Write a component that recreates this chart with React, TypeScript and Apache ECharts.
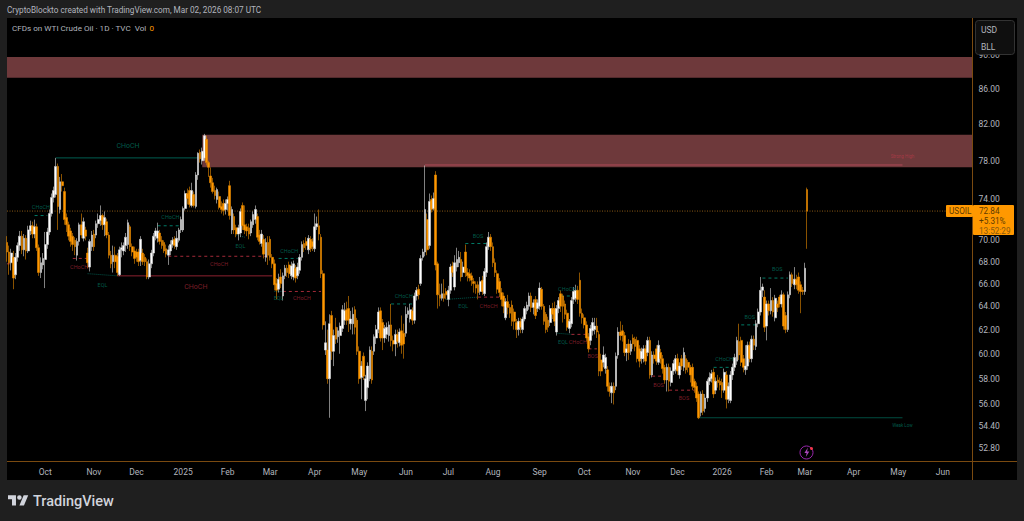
import React, { useEffect, useRef } from "react";
import * as echarts from "echarts";

// Daily bars as [open, close, low, high].
const barsA = [[69.8,68.9,68.0,70.4],[68.9,67.9,66.8,69.5],[67.9,68.8,67.2,69.2],[68.4,66.5,65.5,69.0],[66.8,68.4,66.4,68.8],[68.4,69.5,68.0,69.8],[69.5,70.4,69.0,70.9],[70.4,69.1,68.7,70.9],[69.1,70.2,68.5,70.6],[70.2,69.0,68.2,70.5],[69.0,71.0,68.8,71.4],[70.9,71.4,70.5,71.9],[71.4,70.6,70.2,71.8],[70.6,71.3,70.2,72.0],[71.3,69.3,69.0,71.6],[69.3,67.0,66.7,69.6],[67.0,67.9,66.5,68.4],[67.7,68.3,67.3,68.8],[68.2,69.6,65.6,70.8],[69.6,70.8,69.2,71.2],[70.8,72.6,70.5,73.0],[72.6,74.2,72.3,74.6],[74.2,74.9,73.7,75.3],[74.5,77.4,74.2,78.3],[77.4,73.3,71.0,77.7],[73.0,75.8,72.6,76.3],[75.8,75.4,74.8,76.6],[74.8,72.0,71.5,75.2]];
const barsB = [[72.2,71.5,70.8,72.6],[71.5,70.4,70.0,71.8],[70.9,69.9,69.4,71.2],[70.4,69.6,69.0,70.7],[70.0,69.4,68.6,70.3],[68.6,69.9,68.1,70.2],[69.9,71.5,69.5,71.7],[71.5,70.5,70.2,72.6],[70.2,71.8,69.9,72.2],[71.0,70.4,70.0,71.3],[68.8,67.9,67.4,69.3],[67.5,69.9,67.1,70.1],[69.4,70.5,69.0,70.9],[70.6,69.4,69.0,71.0],[70.5,71.6,70.2,71.9],[71.6,72.0,71.2,72.6],[71.9,72.4,71.4,73.4],[72.4,71.5,71.0,72.6],[71.5,72.2,70.4,72.8],[71.8,70.5,70.2,72.1],[70.5,68.6,68.3,70.8],[68.6,67.8,67.4,69.0],[68.0,68.6,67.0,69.5],[68.6,68.0,67.4,69.4],[68.5,67.0,66.7,68.8],[66.8,69.1,66.7,69.4],[69.1,69.3,68.4,69.8],[69.0,69.5,68.6,69.8],[69.5,70.3,68.9,70.7],[69.6,71.7,69.2,72.0]];
const barsC = [[71.3,69.4,69.0,71.5],[69.4,68.9,68.5,69.7],[69.0,68.3,67.8,69.4],[68.9,68.4,68.0,69.2],[68.9,68.0,67.6,69.2],[68.1,70.1,67.6,70.4],[68.8,68.0,67.7,69.2],[68.4,68.0,67.6,68.7],[68.0,66.6,66.4,68.3],[66.6,67.8,66.4,68.2],[67.8,68.8,67.4,69.1],[68.8,70.4,68.5,70.7],[70.4,70.9,70.0,71.2],[70.2,70.9,69.8,71.7],[70.7,69.9,69.6,71.0],[70.0,69.5,69.2,70.4],[69.8,69.0,68.8,70.0],[69.2,68.7,68.4,69.6],[68.6,69.1,67.7,69.5],[69.0,69.6,68.6,70.0],[69.6,70.0,69.3,70.3],[70.1,69.5,69.2,70.4],[69.4,70.2,69.1,70.9],[70.0,71.0,69.8,71.2],[71.0,72.0,70.7,72.3],[71.0,73.1,70.8,73.3],[73.1,74.6,72.9,74.9],[74.6,74.1,73.5,75.1],[74.9,73.5,73.2,75.3],[73.4,74.9,73.2,75.7],[74.5,73.4,73.2,74.8],[73.3,76.5,73.1,76.8],[76.5,78.8,76.0,78.9],[78.9,78.2,77.8,79.2],[78.0,79.0,77.6,79.4],[78.3,80.7,78.0,80.9],[80.3,77.8,77.5,80.7],[77.8,77.3,76.3,78.0]];
const barsD = [[76.4,75.7,75.2,77.3],[75.7,74.8,74.6,76.2],[74.9,74.4,74.0,75.4],[74.0,75.0,73.6,75.2],[74.3,73.2,73.0,74.8],[73.3,73.0,72.6,73.8],[73.6,72.9,72.4,74.0],[73.0,73.6,72.5,74.0],[73.6,74.0,72.9,74.3],[75.4,72.4,72.0,75.9],[71.0,73.0,70.6,73.3],[72.3,71.0,70.6,72.6],[71.2,70.6,70.3,71.5],[70.6,71.2,70.0,71.5],[70.7,72.8,70.3,73.1],[73.4,71.4,71.0,73.7],[71.5,71.0,70.6,73.4],[71.3,70.9,70.4,71.6],[71.2,70.6,70.1,71.6],[70.7,71.8,70.4,72.0],[71.5,72.5,71.2,72.8],[72.0,73.0,71.6,73.4],[72.3,70.3,70.0,72.6],[70.5,69.9,69.6,71.0],[69.7,70.6,69.4,71.0],[70.1,68.7,68.3,70.5],[68.4,69.8,68.0,70.2],[69.8,68.6,67.7,70.4],[70.1,68.4,68.1,70.4],[68.4,67.8,67.4,68.7]];
const barsE = [[67.8,65.9,65.4,68.2],[66.0,65.4,64.6,66.5],[65.5,66.4,65.2,66.9],[66.6,66.0,65.6,67.3],[64.9,66.7,64.5,67.0],[66.7,67.4,66.4,67.7],[67.4,67.0,66.6,67.7],[67.7,66.9,66.5,68.0],[66.7,67.6,66.4,68.0],[66.6,67.8,66.3,68.1],[67.4,66.5,66.1,67.7],[66.7,67.5,66.4,67.9],[67.2,68.4,66.9,68.7],[68.4,69.6,68.1,69.9],[69.7,69.3,68.9,70.0],[69.9,69.5,69.1,70.3],[69.1,70.2,68.7,70.5],[70.1,69.2,68.9,70.4],[69.9,69.4,69.0,70.2],[69.2,71.3,68.9,72.6],[71.3,71.6,71.0,72.3],[71.4,70.6,70.0,73.0],[70.3,66.9,66.5,70.6],[66.9,62.4,62.0,67.2],[60.3,60.9,59.9,62.7],[60.3,58.0,57.6,62.0],[58.0,62.5,55.0,63.3],[63.2,60.2,59.5,63.6],[60.2,61.5,59.0,62.0],[62.2,61.2,60.8,63.0],[61.4,61.9,60.9,62.2]];
const barsF = [[61.5,62.3,60.0,62.6],[62.1,63.7,61.8,64.1],[62.8,63.6,62.4,64.3],[63.7,62.8,62.4,64.4],[63.8,62.8,61.8,64.9],[62.5,62.9,62.0,63.6],[62.5,63.3,61.6,63.9],[63.7,62.2,61.6,64.0],[62.8,60.2,59.9,63.0],[60.2,58.0,57.6,60.6],[58.1,59.0,56.4,59.4],[59.8,58.2,57.9,60.1],[56.3,58.0,55.5,58.3],[57.3,59.0,56.4,59.3],[58.0,60.3,57.8,60.6],[60.2,57.9,57.6,60.6],[60.2,61.4,59.9,61.6],[61.3,62.0,60.8,62.4],[62.0,63.5,61.7,63.9],[63.6,61.3,61.0,63.9],[62.6,61.3,60.3,62.9],[61.3,62.1,60.9,62.4],[61.6,62.2,61.2,62.6],[61.5,62.4,61.0,62.7],[62.4,61.1,60.6,64.2],[61.1,60.8,60.2,61.5],[60.8,61.6,59.8,62.0],[61.6,61.0,60.5,62.0],[60.9,61.8,60.6,62.1],[61.9,60.7,60.0,63.2],[61.7,60.8,59.6,62.5],[61.7,63.3,61.4,64.0],[63.3,63.6,63.0,63.9],[62.9,63.7,62.6,64.2],[63.6,62.8,62.4,63.9],[62.8,64.9,62.5,65.2],[64.9,65.4,64.5,65.7],[65.5,65.0,64.6,65.9],[66.0,68.3,65.8,68.6]];
const barsG = [[68.4,68.9,68.1,69.2],[68.9,73.0,68.5,77.5],[72.0,69.1,68.6,72.6],[69.5,73.8,69.2,74.6],[74.0,73.0,72.7,74.4],[73.1,74.1,72.9,74.7],[76.5,67.7,67.2,76.9],[67.8,65.0,63.8,68.0],[65.0,64.7,64.0,66.0],[64.7,65.1,64.5,66.0],[65.1,64.7,64.4,66.4],[65.3,65.0,64.6,65.6],[64.6,65.4,64.0,65.8],[65.4,67.5,65.1,67.8],[67.6,67.0,66.6,68.0],[65.7,67.9,65.4,68.6],[67.5,68.2,67.1,69.3],[67.9,68.4,67.5,69.0],[68.2,66.6,66.2,68.9],[67.0,67.5,66.6,68.0],[68.9,67.0,66.6,69.6],[67.0,66.7,66.2,67.4],[66.9,66.5,66.2,67.3],[66.7,66.3,65.8,67.0],[66.2,66.0,65.2,66.5],[65.9,65.6,65.1,66.2],[65.9,65.2,64.6,66.2],[65.3,66.2,65.0,66.6],[66.3,65.3,65.0,66.7],[65.1,67.1,64.9,67.4],[67.0,69.4,66.6,69.8],[69.4,70.3,69.1,70.8],[70.3,69.4,69.0,70.6],[69.4,67.9,67.5,69.8],[67.9,67.0,66.6,68.3],[66.9,65.5,65.1,67.2],[66.2,65.2,64.8,66.5],[65.2,64.6,64.0,65.6],[64.9,64.0,63.4,65.2]];
const barsH = [[63.0,64.4,62.8,64.7],[64.4,63.9,63.3,65.0],[63.9,63.4,63.0,64.2],[64.1,62.7,62.3,64.5],[63.5,62.7,62.0,63.8],[62.6,62.0,61.3,62.9],[62.0,62.7,61.5,63.0],[62.7,62.2,61.7,63.0],[62.0,62.9,61.7,63.1],[62.9,63.8,62.7,64.0],[63.6,64.1,63.3,64.4],[64.0,64.9,63.7,65.2],[64.9,63.9,63.5,65.2],[63.9,64.3,63.3,64.6],[64.6,63.2,62.9,64.9],[63.8,64.3,63.5,64.6],[64.0,65.6,63.7,66.1],[65.5,64.0,63.7,65.7],[64.0,62.7,62.4,64.2],[63.3,62.0,61.7,63.5],[62.8,62.2,61.8,63.1],[62.6,63.8,62.3,64.1],[63.8,63.3,62.9,64.3],[63.8,62.7,62.3,64.4],[61.8,63.8,61.5,64.1],[63.8,64.5,63.4,64.8],[65.1,64.0,63.5,65.4],[64.9,64.0,62.6,65.1],[64.2,63.3,62.9,64.5],[63.4,62.2,61.9,63.7],[62.1,62.7,61.7,62.9],[62.5,64.5,62.2,64.8],[64.6,65.3,64.2,65.7],[64.7,65.4,64.4,65.9],[65.4,64.6,64.2,65.8],[66.3,63.4,63.1,67.0],[63.4,63.0,62.5,63.8],[63.0,62.4,62.1,63.3],[62.4,61.3,61.0,62.7],[61.4,60.4,60.1,61.7]];
const barsI = [[61.1,62.1,60.7,62.4],[61.9,62.6,61.5,63.0],[62.0,62.3,61.6,63.0],[62.3,61.8,61.3,63.0],[61.6,58.6,58.2,61.9],[59.5,58.6,58.2,60.0],[59.3,59.9,58.9,60.6],[58.8,59.7,58.4,60.0],[58.7,57.4,57.0,59.0],[57.4,57.0,56.6,57.7],[56.9,57.4,56.1,57.7],[57.4,56.9,56.0,57.7],[57.4,59.8,57.1,60.1],[59.9,61.8,59.6,62.2],[61.8,61.5,61.1,62.7],[61.9,61.5,61.0,62.4],[61.5,60.1,59.8,61.8],[60.1,60.4,59.4,60.8],[60.8,60.1,59.5,61.2],[60.2,60.8,59.9,61.1],[61.3,60.8,60.4,61.6],[61.2,60.6,60.2,61.4],[61.1,59.6,59.3,61.4],[60.4,59.4,58.9,60.7],[59.6,60.2,59.2,60.5],[59.6,60.4,59.3,60.7],[60.4,59.4,59.1,60.7],[60.1,61.1,59.8,61.4],[61.1,58.3,58.0,61.4],[58.3,59.9,58.1,60.2],[59.9,59.6,59.2,60.2],[60.4,59.4,59.1,60.7],[59.3,60.7,59.1,61.1],[60.1,59.6,59.2,60.4],[59.6,58.8,58.4,59.9],[58.9,57.9,57.6,59.1]];
const barsJ = [[57.9,58.9,57.0,59.2],[58.9,57.8,57.0,59.2],[57.7,58.6,57.4,58.9],[58.6,59.2,58.3,59.5],[58.7,59.6,58.4,59.9],[59.6,58.6,58.3,60.0],[58.3,59.0,58.0,59.3],[59.6,59.0,58.7,59.9],[58.9,60.1,58.6,60.5],[59.6,58.7,58.4,59.9],[59.3,58.9,58.5,59.5],[58.9,58.3,57.7,59.1],[58.9,57.4,57.1,59.2],[57.8,57.3,56.9,58.0],[57.4,56.5,56.2,57.7],[56.8,55.0,54.9,57.0],[55.4,56.8,55.1,57.0],[56.8,55.5,55.2,57.1],[55.7,56.5,55.4,56.8],[56.5,57.8,56.2,58.0],[57.8,58.1,57.5,58.5],[58.0,58.4,57.7,58.7],[58.5,56.8,56.5,58.8],[57.1,57.8,56.8,58.1],[57.9,57.7,57.3,58.3],[57.8,57.5,57.1,58.1],[57.7,57.1,56.5,58.0],[57.1,58.5,56.9,58.8],[58.3,56.4,55.7,58.6],[56.4,57.4,56.1,57.7],[56.3,58.3,56.1,58.6],[58.3,58.9,57.9,59.2],[58.9,59.7,58.6,60.0],[59.4,61.1,59.1,61.4]];
const barsK = [[61.0,59.9,59.5,62.5],[61.1,59.3,59.0,61.4],[59.6,58.9,58.5,59.9],[58.7,59.0,58.3,60.7],[59.0,60.7,58.7,61.0],[60.7,59.6,59.3,61.0],[59.6,61.2,59.3,61.5],[61.2,60.7,60.3,61.5],[60.6,62.5,60.3,62.8],[62.5,63.5,62.2,63.8],[63.5,65.4,63.2,66.6],[65.4,65.7,64.8,66.0],[64.8,62.2,61.8,65.4],[62.3,64.2,61.1,64.5],[64.2,63.6,63.2,64.5],[63.6,64.5,63.3,65.6],[64.5,63.5,63.1,64.8],[63.0,64.7,62.7,65.0],[64.2,63.9,63.5,64.5],[64.8,64.2,63.9,65.0],[64.2,65.0,63.9,65.4],[65.0,62.3,62.0,65.2],[63.2,62.0,61.7,63.5],[62.0,65.0,61.8,65.3],[65.0,66.8,64.7,67.1],[66.8,66.0,65.7,67.0],[65.9,66.4,65.5,67.5],[66.4,65.9,65.5,66.8],[66.6,65.4,65.1,67.0],[65.9,65.3,63.4,66.2],[65.4,65.3,65.0,65.7],[65.3,67.4,65.0,67.9],[75.0,72.84,69.2,75.2]];
const bars = [...barsA, ...barsB, ...barsC, ...barsD, ...barsE, ...barsF, ...barsG, ...barsH, ...barsI, ...barsJ, ...barsK];

const slotCount = 456;
const timeNames = ["Oct","Nov","Dec","2025","Feb","Mar","Apr","May","Jun","Jul","Aug","Sep","Oct","Nov","Dec","2026","Feb","Mar","Apr","May","Jun"];
const timeSlots = [18,41,61,83,104,124,145,166,188,208,229,251,272,295,316,337,358,376,399,420,441];
const priceTicks = [90,86,82,78,74,70,68,66,64,62,60,58,56,54.4,52.8];
const lastPrice = 72.84;

const zones = [[0,455,89.8,87.3],[92,455,80.8,77.3]];

// kind, first slot, last slot, start price, end price
const structureLines: [string, number, number, number, number][] = [
  ["bullSolid",23,90,78.3,78.3],["bullDash",13,19,72.4,72.4],["bearDash",0,3,67.8,67.8],["bearDash",31,38,68.3,68.3],
  ["eql",38,52,66.9,66.7],["bearSolid",52,125,66.7,66.7],["bullDash",71,82,71.4,71.4],["bearDash",76,124,68.5,68.5],
  ["eql",108,112,70.5,70.3],["bullDash",128,137,68.3,68.3],["eql",126,130,65.3,65.3],["bearDash",130,148,65.3,65.3],
  ["bullDash",181,191,64.2,64.2],["bullDash",216,227,69.7,69.7],["eql",207,222,64.6,64.8],["bearDash",222,232,64.8,64.8],
  ["bullDash",261,269,64.9,64.9],["eql",259,266,61.7,61.6],["bearDash",266,273,61.6,61.6],["bearDash",274,278,60.4,60.4],
  ["bearDash",304,310,58.2,58.2],["bearDash",312,324,57.1,57.1],["bullDash",333,342,58.9,58.9],["bullDash",346,353,62.4,62.4],
  ["bullDash",356,368,66.5,66.5],["weak",326,422,55.0,55.0],["strong",197,422,77.55,77.55],
];

// text, kind, slot, price, font size
const structureLabels: [string, string, number, number, number][] = [
  ["CHoCH","bull",57,79.6,7],["CHoCH","bull",16,73.2,5.5],["CHoCH","bear",34,67.5,5.5],["EQL","bull",45,65.9,5.5],
  ["CHoCH","bear",89,65.7,7],["CHoCH","bull",77,72.3,5.5],["CHoCH","bear",100,67.8,5.5],["EQL","bull",110,69.5,5.5],
  ["CHoCH","bull",133,69.0,5.5],["EQL","bull",128,64.7,5.5],["CHoCH","bear",139,64.7,5.5],["CHoCH","bull",187,64.9,5.5],
  ["BOS","bull",222,70.4,5.5],["EQL","bull",215,64.0,5.5],["CHoCH","bear",227,64.0,5.5],["CHoCH","bull",264,65.5,5.5],
  ["EQL","bull",262,61.0,5.5],["CHoCH","bear",269,61.0,5.5],["BOS","bear",276,59.8,5.5],["BOS","bear",307,57.5,5.5],
  ["BOS","bear",319,56.5,5.5],["CHoCH","bull",338,59.6,5.5],["BOS","bull",350,63.1,5.5],["BOS","bull",363,67.3,5.5],
  ["Strong High","strong",422,78.5,4.5],["Weak Low","bull",422,54.4,4.5],
];

const lineStyles: Record<string, any> = {
  bullSolid: { color: "#005f52", width: 1, type: "solid" },
  bullDash: { color: "#007a66", width: 1, type: [3, 3] },
  bearSolid: { color: "#8e2230", width: 1, type: "solid" },
  bearDash: { color: "#a32a38", width: 1, type: [3, 3] },
  eql: { color: "#00564a", width: 1, type: [1, 1] },
  weak: { color: "#004d40", width: 1, type: "solid" },
  strong: { color: "#b04a58", width: 1, type: "solid" },
};
const labelColors: Record<string, string> = { bull: "#00705f", bear: "#9c2533", strong: "#b53a4a" };

const AXIS_FONT = "Roboto, 'Liberation Sans', sans-serif";
const ORANGE = "#ff9800";
const RULE = "#7a4a10";

echarts.graphic.registerShape("tvLogo", echarts.graphic.extendPath("M14 22H7V11H0V4h14v18zM28 22h-8l7.5-18h8L28 22zM24 8a4 4 0 1 1-8 0 4 4 0 0 1 8 0z", {}) as any);
echarts.graphic.registerShape("bolt", echarts.graphic.extendPath("M7 0L2 7h3.2L4 12l5-7H5.8z", {}) as any);

export default function App() {
  const ref = useRef<HTMLDivElement>(null);
  useEffect(() => {
    document.body.style.margin = "0";
    document.body.style.background = "#1f1f1f";
    const chart = echarts.init(ref.current!, undefined, { renderer: "svg" });
    const categories = Array.from({ length: slotCount }, () => "");
    timeSlots.forEach((s, i) => { categories[s] = timeNames[i]; });

    const text = (x: number, y: number, t: string, fill: string, size: number, extra: any = {}, z = 50) => ({
      type: "text", x, y, z, silent: true,
      style: { text: t, fill, font: `${extra.weight || "normal"} ${size}px ${AXIS_FONT}`, textAlign: extra.align || "left", textVerticalAlign: "middle" },
    });

    chart.setOption({
      animation: false,
      backgroundColor: "#1f1f1f",
      grid: { left: 7, right: 51.5, top: 18, bottom: 60, containLabel: false },
      xAxis: {
        type: "category", data: categories, boundaryGap: false,
        axisLine: { show: false }, axisTick: { show: false }, splitLine: { show: false },
        axisLabel: {
          color: "#b2b5be", fontSize: 8.5, fontFamily: AXIS_FONT, margin: 6,
          interval: (_i: number, v: string) => v !== "", hideOverlap: false,
        },
      },
      yAxis: {
        type: "log", logBase: 10, position: "right", min: 51.86, max: 94.7,
        axisLine: { show: false }, axisTick: { show: false }, splitLine: { show: false },
        axisLabel: {
          color: "#b2b5be", fontSize: 8.5, fontFamily: AXIS_FONT, margin: 6,
          customValues: priceTicks, formatter: (v: number) => Number(v).toFixed(2),
        },
      },
      series: [
        {
          type: "line", data: [], silent: true, z: 1,
          markArea: {
            silent: true,
            itemStyle: { color: "#6e393b", borderWidth: 0 },
            data: zones.map(([a, b, top, low]) => [{ coord: [a, top] }, { coord: [b, low] }]),
          },
        },
        {
          type: "line", silent: true, z: 2, symbol: "none",
          data: [[0, lastPrice], [455, lastPrice]],
          lineStyle: { color: "#8a5a16", width: 1, type: [1, 1.5] },
        },
        ...structureLines.map(([kind, a, b, p1, p2]) => ({
          type: "line", silent: true, z: 3, symbol: "none",
          data: [[a, p1], [b, p2]],
          lineStyle: lineStyles[kind],
        })),
        {
          type: "candlestick", z: 4, data: bars, barWidth: 2.2, silent: true,
          itemStyle: { color: "#ffffff", color0: ORANGE, borderColor: "#d8d8d8", borderColor0: "#e88a00", borderWidth: 0.6 },
        },
        {
          type: "scatter", silent: true, z: 5, symbolSize: 0,
          data: structureLabels.map(([t, kind, s, p, size]) => ({
            value: [s, p],
            label: {
              show: true, position: "inside", formatter: t, color: labelColors[kind],
              fontSize: size, fontFamily: AXIS_FONT,
            },
          })),
        },
      ],
      graphic: [
        { type: "rect", z: -2, silent: true, shape: { x: 7, y: 18, width: 1010, height: 462 }, style: { fill: "#000000" } },
        { type: "line", z: 40, silent: true, shape: { x1: 972.5, y1: 18, x2: 972.5, y2: 480 }, style: { stroke: RULE, lineWidth: 1 } },
        { type: "line", z: 40, silent: true, shape: { x1: 7, y1: 461.5, x2: 1017, y2: 461.5 }, style: { stroke: RULE, lineWidth: 1 } },
        text(7, 10, "CryptoBlockto created with TradingView.com, Mar 02, 2026 08:07 UTC", "#b2b5be", 8.2),
        text(12, 28, "CFDs on WTI Crude Oil · 1D · TVC  Vol", "#b2b5be", 8.1),
        text(149.5, 28, "0", ORANGE, 8.1),
        { type: "rect", z: 45, silent: true, shape: { x: 975.5, y: 20.5, width: 39, height: 34, r: 3 }, style: { fill: "#0f0f0f", stroke: "#333333", lineWidth: 1 } },
        text(981, 29.5, "USD", "#b2b5be", 8.5),
        text(981, 47, "BLL", "#b2b5be", 8.5),
        { type: "rect", z: 46, silent: true, shape: { x: 946, y: 205, width: 27, height: 12, r: 1 }, style: { fill: ORANGE } },
        { type: "rect", z: 46, silent: true, shape: { x: 973, y: 205, width: 41, height: 30, r: 1 }, style: { fill: ORANGE } },
        text(949, 211.3, "USOIL", "#5f3b00", 8.2),
        text(979, 211.3, "72.84", "#5f3b00", 8.2),
        text(979, 221, "+5.31%", "#5f3b00", 8.2),
        text(979, 230.5, "13:52:29", "#8a5a10", 8.2),
        { type: "tvLogo", z: 50, silent: true, x: 8, y: 493, scaleX: 0.57, scaleY: 0.57, style: { fill: "#d1d4dc" } },
        text(33, 501, "TradingView", "#d1d4dc", 14.5, { weight: 500 }),
        { type: "circle", z: 50, silent: true, shape: { cx: 806.5, cy: 452.5, r: 6.5 }, style: { fill: "none", stroke: "#9c27b0", lineWidth: 1 } },
        { type: "bolt", z: 50, silent: true, x: 803, y: 447.5, scaleX: 0.7, scaleY: 0.8, style: { fill: "#ab47bc" } },
        { type: "circle", z: 51, silent: true, shape: { cx: 811.5, cy: 448.5, r: 1.5 }, style: { fill: "#f23645" } },
      ],
    });
    return () => chart.dispose();
  }, []);
  return <div ref={ref} style={{ position: "absolute", left: 0, top: 0, width: 1024, height: 521 }} />;
}
